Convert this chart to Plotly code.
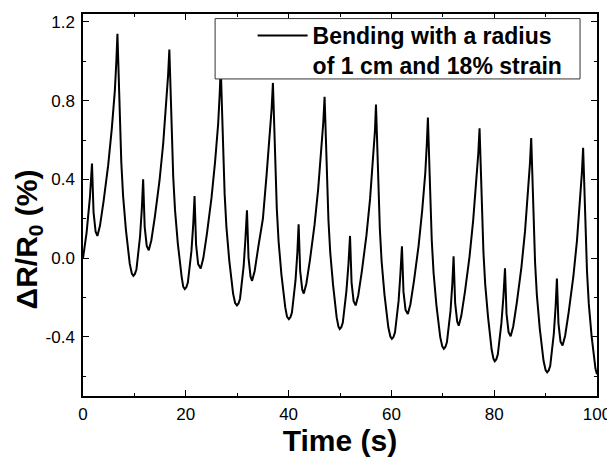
import plotly.graph_objects as go

# Time (s) and resistance change (%)
time_s = [
    0.0, 0.7, 1.35, 1.75, 2.05, 2.45, 2.8,
    3.3, 4.0, 4.9, 5.6, 6.2, 6.5, 6.7,
    7.05, 7.45, 7.8, 8.35, 9.1, 9.5, 9.8,
    10.1, 10.4, 11.1, 11.45, 11.7, 12.0, 12.4, 12.8,
    13.3, 14.0, 14.9, 15.6, 16.2, 16.55, 16.8,
    17.15, 17.55, 17.9, 18.45, 19.2, 19.5, 19.8,
    20.1, 20.4, 21.1, 21.45, 21.7, 22.0, 22.4, 22.9,
    23.4, 24.1, 25.0, 25.7, 26.3, 26.6, 26.8,
    27.15, 27.55, 27.9, 28.45, 29.2, 29.6, 29.95,
    30.25, 30.55, 31.25, 31.6, 31.9, 32.2, 32.6, 32.9,
    33.4, 34.1, 35.0, 35.7, 36.3, 36.7, 36.95,
    37.3, 37.7, 38.05, 38.6, 39.35, 39.7, 40.05,
    40.35, 40.65, 41.35, 41.7, 41.95, 42.25, 42.65, 42.95,
    43.45, 44.15, 45.05, 45.75, 46.35, 46.75, 47.0,
    47.35, 47.75, 48.1, 48.65, 49.35, 49.7, 49.95,
    50.25, 50.55, 51.25, 51.65, 51.95, 52.25, 52.65, 53.05,
    53.55, 54.25, 55.15, 55.85, 56.45, 56.8, 57.0,
    57.35, 57.75, 58.1, 58.65, 59.4, 59.8, 60.1,
    60.4, 60.7, 61.4, 61.75, 62.05, 62.35, 62.75, 63.2,
    63.7, 64.4, 65.3, 66.0, 66.6, 66.9, 67.1,
    67.45, 67.85, 68.2, 68.75, 69.5, 69.9, 70.2,
    70.5, 70.8, 71.5, 71.85, 72.1, 72.4, 72.8, 73.1,
    73.6, 74.3, 75.2, 75.9, 76.5, 76.9, 77.15,
    77.5, 77.9, 78.25, 78.8, 79.5, 79.85, 80.1,
    80.4, 80.7, 81.4, 81.8, 82.1, 82.4, 82.8, 83.2,
    83.7, 84.4, 85.3, 86.0, 86.6, 86.95, 87.2,
    87.55, 87.95, 88.3, 88.85, 89.6, 90.0, 90.3,
    90.6, 90.9, 91.6, 91.95, 92.2, 92.5, 92.9, 93.3,
    93.8, 94.5, 95.4, 96.1, 96.7, 97.05, 97.3,
    97.65, 98.05, 98.4, 98.95, 99.7, 100.0,
]
delta_r = [
    0.0, 0.13, 0.31, 0.48, 0.234, 0.135, 0.113,
    0.164, 0.288, 0.472, 0.657, 0.852, 1.006, 1.14,
    0.833, 0.488, 0.316, 0.144, -0.029, -0.078, -0.09,
    -0.080, -0.056, 0.11, 0.253, 0.40, 0.159, 0.062, 0.04,
    0.091, 0.213, 0.397, 0.581, 0.774, 0.927, 1.06,
    0.756, 0.415, 0.245, 0.074, -0.096, -0.145, -0.157,
    -0.148, -0.124, 0.037, 0.173, 0.315, 0.069, -0.030, -0.052,
    -0.001, 0.122, 0.306, 0.490, 0.684, 0.837, 0.97,
    0.668, 0.329, 0.159, -0.010, -0.180, -0.228, -0.24,
    -0.230, -0.206, -0.042, 0.098, 0.243, 0.003, -0.094, -0.115,
    -0.065, 0.056, 0.200, 0.418, 0.609, 0.759, 0.89,
    0.59, 0.254, 0.086, -0.082, -0.25, -0.298, -0.31,
    -0.300, -0.276, -0.112, 0.027, 0.172, -0.064, -0.159, -0.18,
    -0.13, -0.01, 0.17, 0.35, 0.54, 0.69, 0.82,
    0.525, 0.195, 0.029, -0.136, -0.301, -0.348, -0.36,
    -0.351, -0.327, -0.166, -0.029, 0.113, -0.124, -0.219, -0.24,
    -0.189, -0.067, 0.117, 0.301, 0.494, 0.647, 0.78,
    0.483, 0.149, -0.017, -0.184, -0.351, -0.398, -0.41,
    -0.401, -0.377, -0.217, -0.081, 0.06, -0.170, -0.263, -0.284,
    -0.234, -0.114, 0.065, 0.245, 0.435, 0.584, 0.714,
    0.42, 0.092, -0.073, -0.237, -0.401, -0.448, -0.46,
    -0.451, -0.427, -0.268, -0.132, 0.009, -0.227, -0.322, -0.343,
    -0.293, -0.172, 0.008, 0.189, 0.379, 0.530, 0.66,
    0.364, 0.033, -0.133, -0.298, -0.464, -0.511, -0.523,
    -0.514, -0.490, -0.330, -0.193, -0.052, -0.283, -0.376, -0.397,
    -0.347, -0.226, -0.045, 0.137, 0.328, 0.479, 0.61,
    0.313, -0.021, -0.187, -0.354, -0.521, -0.568, -0.58,
    -0.57, -0.547, -0.384, -0.246, -0.103, -0.331, -0.424, -0.444,
    -0.394, -0.273, -0.093, 0.088, 0.279, 0.429, 0.56,
    0.265, -0.065, -0.231, -0.396, -0.561, -0.59,
]

x_ticks = [0, 20, 40, 60, 80, 100]
y_ticks = [-0.4, 0.0, 0.4, 0.8, 1.2]
legend_label = "Bending with a radius<br>of 1 cm and 18% strain"
y_title = "ΔR/R<sub>0</sub> (%)"
x_title = "Time (s)"

fig = go.Figure()
fig.add_trace(go.Scatter(
    x=time_s, y=delta_r, mode="lines", name=legend_label,
    line=dict(color="black", width=2),
))

font_family = "Liberation Sans, Arial, sans-serif"

# legend frame (white box drawn above the curve, below the legend text)
fig.add_shape(
    type="rect", xref="paper", yref="paper",
    x0=0.257, x1=0.967, y0=0.830, y1=0.988,
    fillcolor="white", line=dict(color="#333333", width=1), layer="above",
)

# y-axis title, placed like the reference (slightly below the axis centre)
fig.add_annotation(
    text=y_title, xref="paper", yref="paper", x=-0.107, y=0.41,
    xanchor="center", yanchor="middle", textangle=-90, showarrow=False,
    font=dict(size=30, weight="bold", family=font_family, color="black"),
)

fig.update_layout(
    # page body adds an 8 px offset, so the figure is drawn 8 px smaller
    width=607, height=453,
    margin=dict(l=75, r=18, t=6, b=65),
    paper_bgcolor="white", plot_bgcolor="white",
    font=dict(family=font_family, color="black", size=17),
    showlegend=True,
    legend=dict(
        x=0.33, y=1.0, xanchor="left", yanchor="top",
        bgcolor="rgba(0,0,0,0)", borderwidth=0,
        font=dict(size=23, family=font_family, color="black", weight="bold"),
        valign="top", itemwidth=50,
    ),
    xaxis=dict(
        range=[0, 100], tickvals=x_ticks, ticktext=[str(v) for v in x_ticks],
        ticks="inside", ticklen=6, tickwidth=1, tickcolor="black",
        minor=dict(dtick=10, tick0=0, ticks="inside", ticklen=3, tickcolor="black"),
        showline=True, linecolor="black", linewidth=1.5, mirror="ticks",
        showgrid=False, zeroline=False, automargin=False,
        tickfont=dict(size=17), ticklabelstandoff=2,
        title=dict(text=x_title, font=dict(size=30, weight="bold"), standoff=6),
    ),
    yaxis=dict(
        range=[-0.7, 1.24], tickvals=y_ticks, ticktext=["%.1f" % v for v in y_ticks],
        ticks="inside", ticklen=6, tickwidth=1, tickcolor="black",
        minor=dict(dtick=0.2, tick0=0, ticks="inside", ticklen=3, tickcolor="black"),
        showline=True, linecolor="black", linewidth=1.5, mirror="ticks",
        showgrid=False, zeroline=False, automargin=False,
        tickfont=dict(size=17), ticklabelstandoff=3,
    ),
)

fig.write_html("out.html")
